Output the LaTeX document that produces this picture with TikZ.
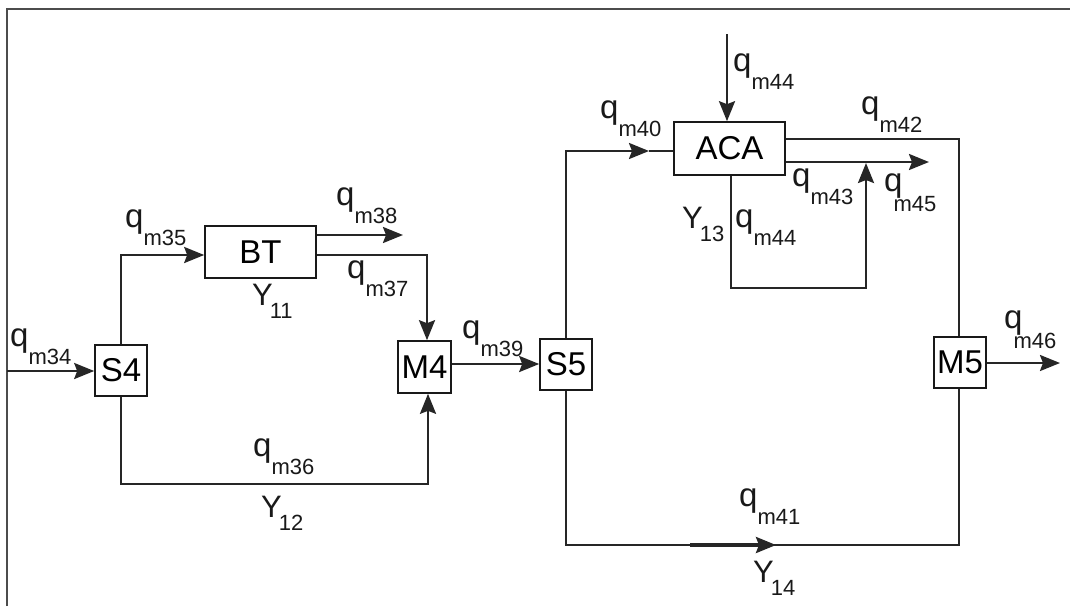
\documentclass[tikz,border=0pt]{standalone}
\usepackage{fontspec}
\setmainfont{Liberation Sans}
\usetikzlibrary{arrows.meta}
\newcommand\qlab[1]{{\fontsize{33}{33}\selectfont q}\raisebox{-18pt}{\fontsize{22}{22}\selectfont m#1}}
\newcommand\qlabk[1]{{\fontsize{33}{33}\selectfont q}\kern-9pt\raisebox{-20pt}{\fontsize{22}{22}\selectfont m#1}}
\newcommand\ylab[1]{{\fontsize{31}{31}\selectfont Y}\kern-3pt\raisebox{-13pt}{\fontsize{22}{22}\selectfont #1}}
\begin{document}
\begin{tikzpicture}[x=1pt,y=-1pt,
  box/.style={draw=black!90, line width=1.6pt, inner sep=0pt, font=\fontsize{33}{33}\selectfont},
  flow/.style={draw=black!85, line width=2.5pt},
  arr/.style={flow, -{Stealth[length=20pt,width=16pt,inset=3pt]}},
  lab/.style={anchor=base west, inner sep=0pt, text=black!90},
  frame/.style={draw=black!70, line width=1.3pt}]
\useasboundingbox (0,0) rectangle (1070,606);
% frame
\coordinate (fTL) at (7,9);
\coordinate (fBL) at (7,606);
\coordinate (fTR) at (1070,9);
\draw[frame] (fBL) -- (fTL) -- (fTR);
% boxes
\node[box, minimum width=52pt, minimum height=51pt] (S4) at (121,370.5) {S4};
\node[box, minimum width=53pt, minimum height=52pt] (M4) at (424.5,367) {M4};
\node[box, minimum width=52pt, minimum height=51pt] (S5) at (566,364.5) {S5};
\node[box, minimum width=52pt, minimum height=51pt] (M5) at (960,362.5) {M5};
\node[box, minimum width=111pt, minimum height=52pt] (BT) at (260.5,252) {BT};
\node[box, minimum width=111pt, minimum height=53pt] (ACA) at (729.5,148.5) {ACA};
% coordinates
\coordinate (in34) at (7,371);
\coordinate (c35) at (121,255);
\coordinate (o38) at (403,235);
\coordinate (c37) at (427,255);
\coordinate (c36a) at (121,484);
\coordinate (c36b) at (428,484);
\coordinate (t40) at (649,151);
\coordinate (in44) at (727,34);
\coordinate (c42) at (959,139);
\coordinate (o45) at (929,162);
\coordinate (c44a) at (731,288);
\coordinate (c44b) at (866,288);
\coordinate (t43) at (866,163);
\coordinate (c41b) at (959,545);
\coordinate (a41s) at (690,545);
\coordinate (a41e) at (776,545);
\coordinate (o46) at (1060,363);
% connectors
\draw[arr] (in34) -- (in34 -| S4.west);
\draw[arr] (S4.north) -- (c35) -- (c35 -| BT.west);
\draw[arr] (BT.east |- o38) -- (o38);
\draw[arr] (BT.east |- c37) -- (c37) -- (c37 |- M4.north);
\draw[arr] (S4.south) -- (c36a) -- (c36b) -- (c36b |- M4.south);
\draw[arr] ([yshift=3pt]M4.east) -- ([yshift=3pt]M4.east -| S5.west);
\draw[arr] (S5.north) |- (t40);
\draw[flow] (t40) -- (t40 -| ACA.west);
\draw[arr] (in44) -- (in44 |- ACA.north);
\draw[flow] (ACA.east |- c42) -- (c42) -- (c42 |- M5.north);
\draw[arr] (ACA.east |- o45) -- (o45);
\draw[arr] (c44a |- ACA.south) -- (c44a) -- (c44b) -- (t43);
\draw[flow] (S5.south) |- (c41b) -- (c41b |- M5.south);
\draw[arr, line width=3.2pt] (a41s) -- (a41e);
\draw[arr] (M5.east |- o46) -- (o46);
% labels
\node[lab] (l34) at (10,346) {\qlab{34}};
\node[lab] (l35) at (125,227) {\qlab{35}};
\node[lab] (l38) at (336,205) {\qlab{38}};
\node[lab] (l37) at (347,278) {\qlab{37}};
\node[lab] (l36) at (253,456) {\qlab{36}};
\node[lab] (l39) at (462,338) {\qlab{39}};
\node[lab] (l40) at (600,118) {\qlab{40}};
\node[lab] (l44a) at (733,71) {\qlab{44}};
\node[lab] (l42) at (861,114) {\qlab{42}};
\node[lab] (l43) at (792,186) {\qlab{43}};
\node[lab] (l45) at (884,191) {\qlabk{45}};
\node[lab] (l44b) at (735,227) {\qlab{44}};
\node[lab] (l41) at (739,506) {\qlab{41}};
\node[lab] (l46) at (1004,328) {\qlabk{46}};
\node[lab] (y11) at (252,305) {\ylab{11}};
\node[lab] (y12) at (261,517) {\ylab{12}};
\node[lab] (y13) at (682,228) {\ylab{13}};
\node[lab] (y14) at (753,582) {\ylab{14}};
\end{tikzpicture}
\end{document}
